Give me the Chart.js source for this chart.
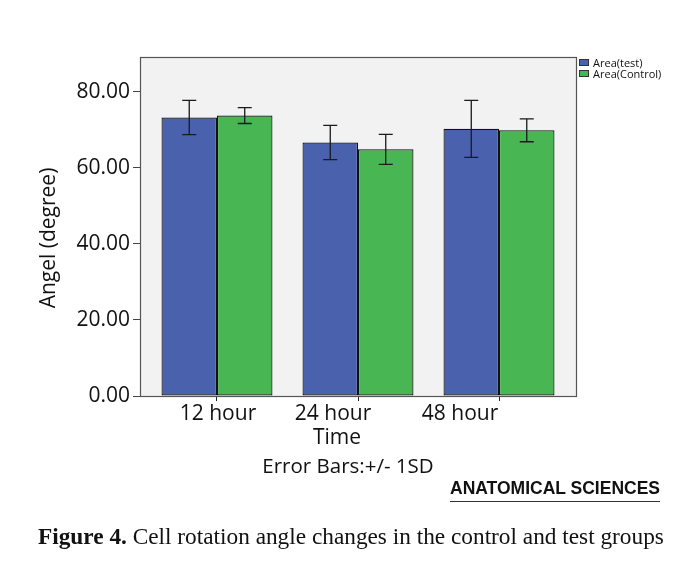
<!DOCTYPE html>
<html lang="en">
<head>
    <meta charset="UTF-8">
    <title>Cell rotation angle changes</title>
    <style>
        body {
            margin: 0;
            background: #fff;
            font-family: 'Open Sans', sans-serif;
            color: #111;
        }
        .wrap {
            position: relative;
            width: 687px;
            height: 585px;
            overflow: hidden;
        }
        #chart {
            position: absolute;
            left: 0;
            top: 0;
        }
        .legend {
            position: absolute;
            left: 579px;
            top: 57px;
            font-size: 11px;
            line-height: 11px;
        }
        .legend div {
            display: flex;
            align-items: center;
            height: 11px;
        }
        .legend span.box {
            display: inline-block;
            width: 8px;
            height: 5px;
            border: 1px solid #333;
            margin-right: 4px;
        }
        .ytitle {
            position: absolute;
            left: -53px;
            top: 225px;
            width: 200px;
            height: 26px;
            line-height: 26px;
            font-size: 21px;
            text-align: center;
            transform: rotate(-90deg);
        }
        .xtitle, .note {
            position: absolute;
            width: 300px;
            font-size: 21px;
            line-height: 21px;
            text-align: center;
        }
        .xtitle { left: 187px; top: 426px; }
        .note { left: 198px; top: 455px; font-size: 20.5px; }
        .brand {
            position: absolute;
            left: 450px;
            top: 480px;
            font-family: 'Liberation Sans', sans-serif;
            font-weight: bold;
            font-size: 17.5px;
            line-height: 17.5px;
            padding-bottom: 3px;
            border-bottom: 1px solid #333;
            color: #111;
        }
        .caption {
            position: absolute;
            left: 38px;
            top: 525px;
            font-family: 'Liberation Serif', serif;
            font-size: 23.3px;
            line-height: 23.3px;
            white-space: nowrap;
            color: #111;
        }
    </style>
</head>
<body>
<div class="wrap">
    <canvas id="chart" width="687" height="585"></canvas>
    <div class="legend" id="legend"></div>
    <div class="ytitle">Angel (degree)</div>
    <div class="xtitle">Time</div>
    <div class="note">Error Bars:+/- 1SD</div>
    <div class="brand">ANATOMICAL SCIENCES</div>
    <div class="caption"><b>Figure 4.</b> Cell rotation angle changes in the control and test groups</div>
</div>

<script src="https://cdn.jsdelivr.net/npm/chart.js"></script>
<script>
    const timePoints = ['12 hour', '24 hour', '48 hour'];
    const seriesNames = ['Area(test)', 'Area(Control)'];
    const testMean = [73.3, 66.7, 70.3];
    const testSD = [4.5, 4.5, 7.5];
    const controlMean = [73.8, 64.9, 69.9];
    const controlSD = [2.1, 3.95, 3.0];
    const yTicks = [0, 20, 40, 60, 80];

    const colors = ['#4a62ad', '#48b753'];
    // the x labels in the figure sit left of their tick for the later groups
    const labelShift = [1, -25, -39];

    const plotFrame = {
        id: 'plotFrame',
        beforeDraw(chart) {
            const a = chart.chartArea;
            const c = chart.ctx;
            c.save();
            c.fillStyle = '#f2f2f2';
            c.fillRect(a.left, a.top, a.right - a.left, a.bottom - a.top);
            c.restore();
        },
        afterDatasetsDraw(chart) {
            const a = chart.chartArea;
            const c = chart.ctx;
            c.save();
            c.strokeStyle = '#555';
            c.lineWidth = 1.2;
            c.strokeRect(a.left + 0.5, a.top + 0.5, a.right - a.left, a.bottom - a.top);
            c.restore();
        }
    };

    const errorBars = {
        id: 'errorBars',
        afterDatasetsDraw(chart) {
            const c = chart.ctx;
            const y = chart.scales.y;
            c.save();
            c.strokeStyle = '#1a1a1a';
            c.lineWidth = 1.3;
            chart.data.datasets.forEach((ds, di) => {
                chart.getDatasetMeta(di).data.forEach((bar, i) => {
                    const m = ds.data[i].y;
                    const sd = ds.sd[i];
                    const top = y.getPixelForValue(m + sd);
                    const bot = y.getPixelForValue(m - sd);
                    c.beginPath();
                    c.moveTo(bar.x, top);
                    c.lineTo(bar.x, bot);
                    c.moveTo(bar.x - 7, top);
                    c.lineTo(bar.x + 7, top);
                    c.moveTo(bar.x - 7, bot);
                    c.lineTo(bar.x + 7, bot);
                    c.stroke();
                });
            });
            c.restore();
        }
    };

    const xLabels = {
        id: 'xLabels',
        afterDraw(chart) {
            const c = chart.ctx;
            const x = chart.scales.x;
            c.save();
            c.font = '21px "Open Sans"';
            c.fillStyle = '#111';
            c.textAlign = 'center';
            c.textBaseline = 'alphabetic';
            timePoints.forEach((t, i) => {
                c.fillText(t, x.getPixelForValue(i) + labelShift[i], chart.chartArea.bottom + 23.5);
            });
            c.restore();
        }
    };

    const ctx = document.getElementById('chart').getContext('2d');
    const chart = new Chart(ctx, {
        type: 'bar',
        data: {
            datasets: [
                {
                    label: seriesNames[0],
                    data: testMean.map((v, i) => ({ x: i, y: v })),
                    sd: testSD,
                    backgroundColor: colors[0],
                    borderColor: '#111',
                    borderWidth: 1.2,
                    borderSkipped: false
                },
                {
                    label: seriesNames[1],
                    data: controlMean.map((v, i) => ({ x: i, y: v })),
                    sd: controlSD,
                    backgroundColor: colors[1],
                    borderColor: '#111',
                    borderWidth: 1.2,
                    borderSkipped: false
                }
            ]
        },
        options: {
            responsive: false,
            animation: false,
            barPercentage: 1,
            categoryPercentage: 0.787,
            layout: { padding: { top: 57, right: 111, left: 0, bottom: 0 } },
            plugins: {
                legend: { display: false },
                tooltip: { enabled: false }
            },
            scales: {
                x: {
                    type: 'linear',
                    min: -0.546,
                    max: 2.546,
                    offset: false,
                    afterBuildTicks: s => { s.ticks = timePoints.map((_, i) => ({ value: i })); },
                    afterFit: s => { s.height = 189; },
                    ticks: { display: false },
                    grid: { offset: false, drawOnChartArea: false, drawTicks: true, tickLength: 5, color: '#222' },
                    border: { display: false }
                },
                y: {
                    min: 0,
                    max: 89.2,
                    afterBuildTicks: s => { s.ticks = yTicks.map(v => ({ value: v })); },
                    afterFit: s => { s.width = 140; },
                    ticks: {
                        callback: v => v.toFixed(2),
                        font: { family: 'Open Sans', size: 21 },
                        color: '#111',
                        padding: 3
                    },
                    grid: { drawOnChartArea: false, drawTicks: true, tickLength: 7, color: '#444' },
                    border: { display: false }
                }
            }
        },
        plugins: [plotFrame, errorBars, xLabels]
    });

    // legend built from the series
    const legend = document.getElementById('legend');
    seriesNames.forEach((name, i) => {
        const row = document.createElement('div');
        row.innerHTML = '<span class="box" style="background:' + colors[i] + '"></span>' + name;
        legend.appendChild(row);
    });
</script>
</body>
</html>
